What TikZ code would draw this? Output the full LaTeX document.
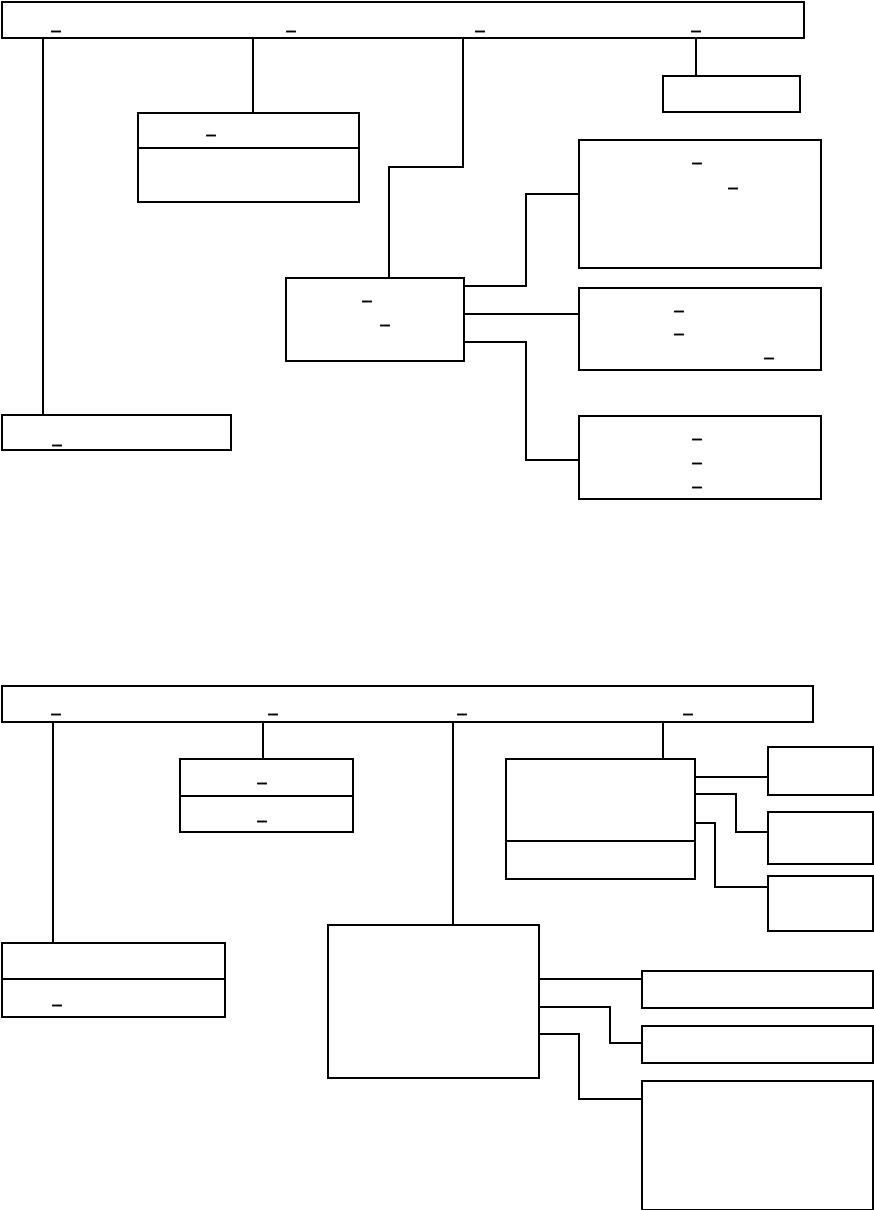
\documentclass[tikz,border=0pt]{standalone}
\usepackage{fontspec}
\usepackage{tikz}
\usetikzlibrary{calc,positioning}
\newfontfamily\usfont[FakeBold=3]{DejaVu Sans}

\begin{document}
\begin{tikzpicture}[x=1pt,y=-1pt,
    tbl/.style={draw, line width=2.1pt, inner sep=0pt, anchor=north west},
    conn/.style={line width=1.3pt},
    connthick/.style={line width=2.1pt},
    uscore/.style={inner sep=0pt, font=\usfont\fontsize{18}{18}\selectfont}]
    \useasboundingbox (0,0) rectangle (873,1210);

    % ---- upper schema ----
    \node[tbl, minimum width=802pt, minimum height=36pt] (hdrA) at (1,1) {};
    \node[tbl, minimum width=229pt, minimum height=35pt] (leftA) at (1,414) {};
    \node[tbl, minimum width=221pt, minimum height=89pt] (keyA) at (137,112) {};
    \node[tbl, minimum width=178pt, minimum height=83pt] (midA) at (285,277) {};
    \node[tbl, minimum width=137pt, minimum height=36pt] (tagA) at (662,75) {};
    \node[tbl, minimum width=242pt, minimum height=128pt] (rA1) at (578,139) {};
    \node[tbl, minimum width=242pt, minimum height=82pt] (rA2) at (578,287) {};
    \node[tbl, minimum width=242pt, minimum height=83pt] (rA3) at (578,415) {};
    \draw[line width=1.4pt] (keyA.west |- 0,148) -- (keyA.east |- 0,148);

    \foreach \ux/\uy in {56/30,291/30,480/30,696/30,57/444,211/134,367/300,385/324,
        697/162,733/187,679/310,679/333,769/357,697/438,697/462,697/486}
        \node[uscore] at (\ux,\uy) {\_};

    \draw[connthick] (hdrA.south -| 43,0) -- (leftA.north -| 43,0);
    \draw[connthick] (hdrA.south -| 253,0) -- (keyA.north -| 253,0);
    \draw[conn] (hdrA.south -| 463,0) |- (389,167) -- (midA.north -| 389,0);
    \draw[conn] (hdrA.south -| 696,0) -- (tagA.north -| 696,0);
    \draw[conn] (midA.east |- 0,286) -| (526,194) -- (rA1.west |- 0,194);
    \draw[connthick] (midA.east |- 0,314) -- (rA2.west |- 0,314);
    \draw[conn] (midA.east |- 0,342) -| (526,460) -- (rA3.west |- 0,460);

    % ---- lower schema ----
    \node[tbl, minimum width=811pt, minimum height=36pt] (hdrB) at (1,685) {};
    \node[tbl, minimum width=223pt, minimum height=74pt] (leftB) at (1,942) {};
    \node[tbl, minimum width=173pt, minimum height=73pt] (keyB) at (179,758) {};
    \node[tbl, minimum width=211pt, minimum height=153pt] (bigB) at (327,924) {};
    \node[tbl, minimum width=189pt, minimum height=120pt] (grpB) at (505,758) {};
    \node[tbl, minimum width=105pt, minimum height=48pt] (sB1) at (767,746) {};
    \node[tbl, minimum width=105pt, minimum height=52pt] (sB2) at (767,811) {};
    \node[tbl, minimum width=105pt, minimum height=55pt] (sB3) at (767,875) {};
    \node[tbl, minimum width=231pt, minimum height=37pt] (tB1) at (641,970) {};
    \node[tbl, minimum width=231pt, minimum height=37pt] (tB2) at (641,1025) {};
    \node[tbl, minimum width=231pt, minimum height=129pt] (tB3) at (641,1080) {};
    \draw[line width=2.1pt] (leftB.west |- 0,979) -- (leftB.east |- 0,979);
    \draw[line width=2.1pt] (keyB.west |- 0,796) -- (keyB.east |- 0,796);
    \draw[line width=2.1pt] (grpB.west |- 0,841) -- (grpB.east |- 0,841);

    \foreach \ux/\uy in {56/713,273/713,462/713,688/713,57/1004,262/782,262/820}
        \node[uscore] at (\ux,\uy) {\_};

    \draw[conn] (hdrB.south -| 53,0) -- (leftB.north -| 53,0);
    \draw[conn] (hdrB.south -| 263,0) -- (keyB.north -| 263,0);
    \draw[conn] (hdrB.south -| 453,0) -- (bigB.north -| 453,0);
    \draw[conn] (hdrB.south -| 663,0) -- (grpB.north -| 663,0);
    \draw[connthick] (grpB.east |- 0,777) -- (sB1.west |- 0,777);
    \draw[connthick] (grpB.east |- 0,794) -| (736,832) -- (sB2.west |- 0,832);
    \draw[connthick] (grpB.east |- 0,823) -| (715,887) -- (sB3.west |- 0,887);
    \draw[connthick] (bigB.east |- 0,979) -- (tB1.west |- 0,979);
    \draw[connthick] (bigB.east |- 0,1007) -| (610,1043) -- (tB2.west |- 0,1043);
    \draw[conn] (bigB.east |- 0,1034) -| (579,1099) -- (tB3.west |- 0,1099);
\end{tikzpicture}
\end{document}
